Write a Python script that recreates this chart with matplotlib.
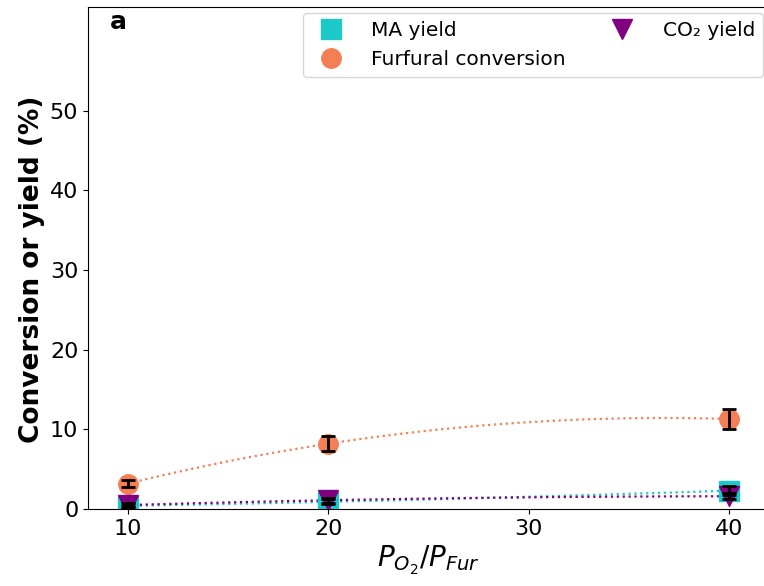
import numpy as np
import matplotlib
matplotlib.use("Agg")
import matplotlib.pyplot as plt

# O2 / furfural pressure ratio
ratio = [10, 20, 40]

# conversion / yields (%) and their error bars
furfural_conv = [3.2, 8.2, 11.3]
furfural_err = [0.5, 0.9, 1.2]
ma_yield = [0.4, 0.9, 2.3]
ma_err = [0.2, 0.3, 0.6]
co2_yield = [0.5, 1.1, 1.6]
co2_err = [0.2, 0.3, 0.4]

series = [
    ("MA yield", ma_yield, ma_err, "s", "#1cc8c8"),
    ("Furfural conversion", furfural_conv, furfural_err, "o", "#f47f55"),
    ("CO\u2082 yield", co2_yield, co2_err, "v", "purple"),
]

fig = plt.figure(figsize=(7.64, 5.86), dpi=100)
ax = fig.add_axes([88 / 764, 77 / 586, 681 / 764, 502 / 586])

xfit = np.linspace(10, 40, 200)
for label, y, err, marker, color in series:
    # quadratic trend line through the points
    coef = np.polyfit(ratio, y, 2)
    ax.plot(xfit, np.polyval(coef, xfit), ":", color=color, lw=1.6, zorder=1)
    ax.plot(ratio, y, marker, color=color, ms=14, ls="none", label=label, zorder=2)
    ax.errorbar(ratio, y, yerr=err, fmt="none", ecolor="black",
                elinewidth=2, capsize=5, capthick=2, zorder=3)

ax.set_xlim(8, 42)
ax.set_ylim(0, 63)
ax.set_xticks([10, 20, 30, 40])
ax.set_yticks([0, 10, 20, 30, 40, 50])
ax.tick_params(labelsize=16)
ax.set_xlabel(r"$P_{O_2}/P_{Fur}$", fontsize=20)
ax.set_ylabel("Conversion or yield (%)", fontsize=19, fontweight="bold")
ax.yaxis.set_label_coords(-0.063, 0.478)
ax.text(0.032, 0.995, "a", transform=ax.transAxes, fontsize=18,
        fontweight="bold", va="top")
ax.legend(loc="upper right", ncol=2, fontsize=14.5, columnspacing=1.8,
          handletextpad=1.0, borderaxespad=0.3)

fig.savefig("out.png", dpi=100)
